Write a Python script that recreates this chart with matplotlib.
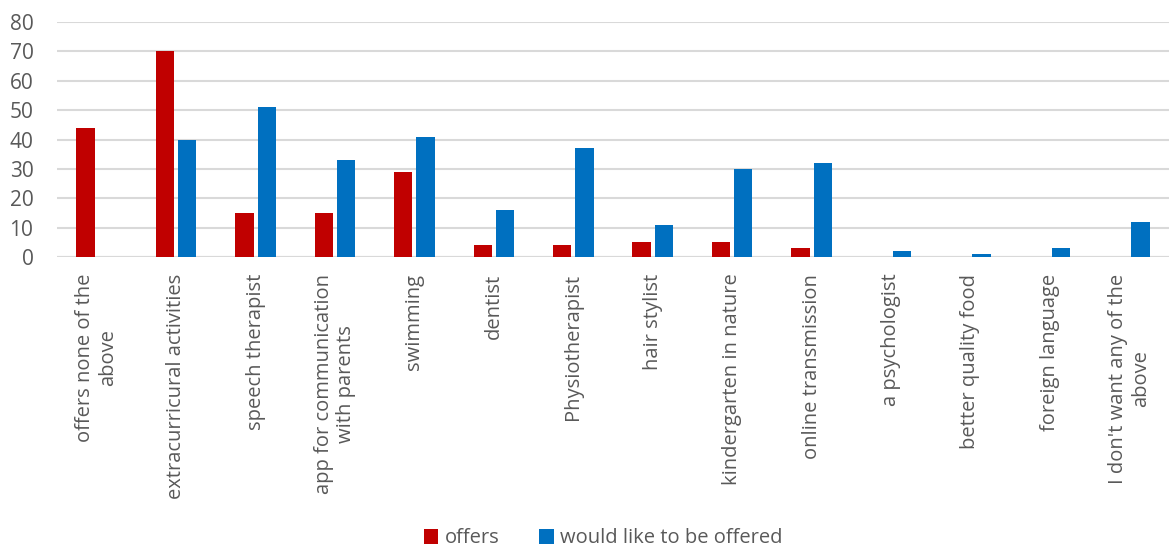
import matplotlib
matplotlib.use("Agg")
import matplotlib.pyplot as plt
import numpy as np

categories = [
    "offers none of the\nabove",
    "extracurricural activities",
    "speech therapist",
    "app for communication\nwith parents",
    "swimming",
    "dentist",
    "Physiotherapist",
    "hair stylist",
    "kindergarten in nature",
    "online transmission",
    "a psychologist",
    "better quality food",
    "foreign language",
    "I don't want any of the\nabove",
]
offers = [44, 70, 15, 15, 29, 4, 4, 5, 5, 3, 0, 0, 0, 0]
would_like = [0, 40, 51, 33, 41, 16, 37, 11, 30, 32, 2, 1, 3, 12]

plt.rcParams['font.family'] = ['Open Sans', 'DejaVu Sans']
text_color = '#595959'

fig = plt.figure(figsize=(11.69, 5.58), dpi=100)
ax = fig.add_axes([57 / 1169, 1 - 257 / 558, 1 - 57 / 1169, (257 - 22) / 558])

x = np.arange(len(categories))
w = 0.23
ax.bar(x - 0.14, offers, w, color='#C00000', label='offers', zorder=3)
ax.bar(x + 0.14, would_like, w, color='#0070C0', label='would like to be offered', zorder=3)

ax.set_xlim(-0.5, len(categories) - 0.5)
ax.set_ylim(0, 80)
ax.set_yticks(range(0, 81, 10))
ax.yaxis.grid(True, color='#d9d9d9', linewidth=1.5, zorder=0)
ax.set_axisbelow(True)
for s in ax.spines.values():
    s.set_visible(False)
ax.axhline(0, color='#d9d9d9', linewidth=1.5, zorder=1)

ax.set_xticks(x)
ax.set_xticklabels(categories, rotation=90, ha='center', va='top',
                   multialignment='center', fontsize=14.5, color=text_color)
ax.tick_params(axis='x', length=0, pad=12)
ax.tick_params(axis='y', length=0, labelsize=15, labelcolor=text_color, pad=17)

fig.legend(loc='lower center', bbox_to_anchor=(0.516, -0.015), ncol=2, frameon=False,
           fontsize=14.5, labelcolor=text_color, handlelength=0.7, handleheight=0.8,
           handletextpad=0.3, columnspacing=2.0)

fig.savefig('out.png', dpi=100)
